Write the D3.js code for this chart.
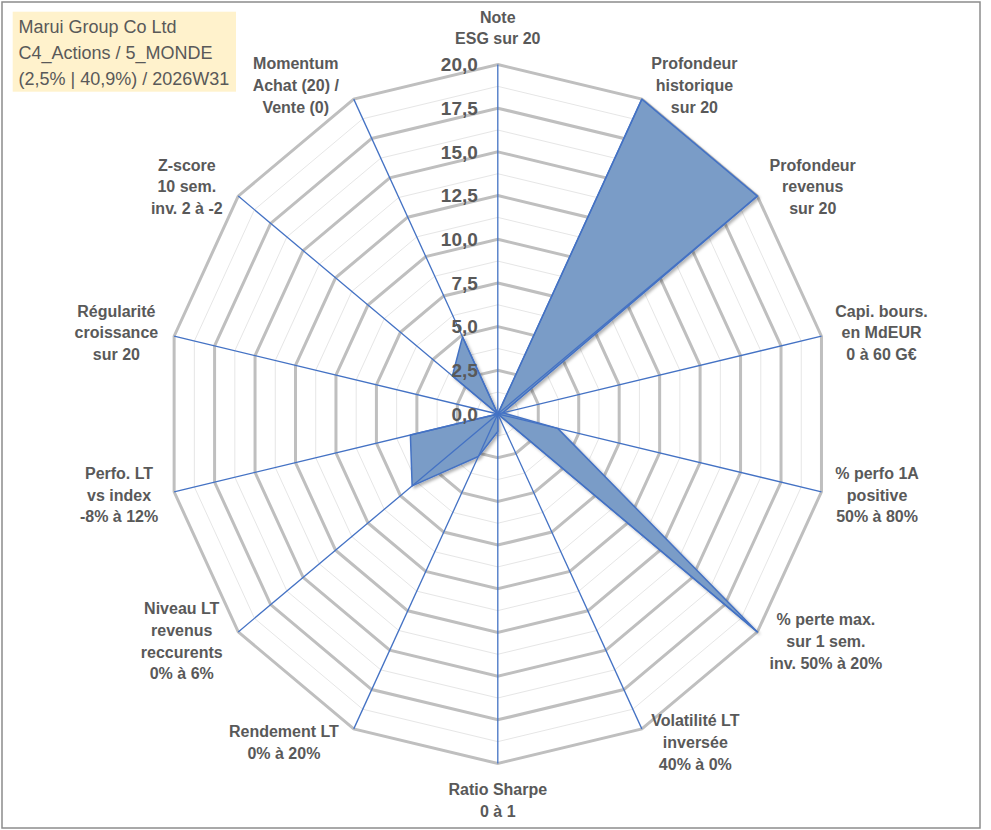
<!DOCTYPE html>
<html>
<head>
<meta charset="utf-8">
<script src="https://cdn.jsdelivr.net/npm/d3@7"></script>
<style>
  body { margin: 0; background: #fff; }
  svg { display: block; }
</style>
</head>
<body>
<div id="chart"></div>
<script>
// axis labels, clockwise from the top
const categories = [
  ["Note", "ESG sur 20"],
  ["Profondeur", "historique", "sur 20"],
  ["Profondeur", "revenus", "sur 20"],
  ["Capi. bours.", "en MdEUR", "0 à 60 G€"],
  ["% perfo 1A", "positive", "50% à 80%"],
  ["% perte max.", "sur 1 sem.", "inv. 50% à 20%"],
  ["Volatilité LT", "inversée", "40% à 0%"],
  ["Ratio Sharpe", "0 à 1"],
  ["Rendement LT", "0% à 20%"],
  ["Niveau LT", "revenus", "reccurents", "0% à 6%"],
  ["Perfo. LT", "vs index", "-8% à 12%"],
  ["Régularité", "croissance", "sur 20"],
  ["Z-score", "10 sem.", "inv. 2 à -2"],
  ["Momentum", "Achat (20) /", "Vente (0)"]
];
const values = [0, 20, 20, 0.3, 3.7, 20, 0, 1.0, 2.7, 6.6, 5.4, 0, 3.5, 4.9];
const majorTicks = [0, 2.5, 5, 7.5, 10, 12.5, 15, 17.5, 20];
const minorTicks = [1.25, 3.75, 6.25, 8.75, 11.25, 13.75, 16.25, 18.75];
const titleLines = ["Marui Group Co Ltd", "C4_Actions / 5_MONDE", "(2,5% | 40,9%) / 2026W31"];

const width = 991, height = 830;
const cx = 497.8, cy = 414;

const svg = d3.select("#chart").append("svg")
  .attr("width", width)
  .attr("height", height);

// frame
svg.append("rect")
  .attr("x", 2).attr("y", 2)
  .attr("width", 978).attr("height", 826)
  .attr("fill", "#fff")
  .attr("stroke", "#8c8c8c")
  .attr("stroke-width", 1.5);

const n = categories.length;
const angle = d3.scaleLinear().domain([0, n]).range([0, 2 * Math.PI]);
const rx = d3.scaleLinear().domain([0, 20]).range([0, 332]);
const ry = d3.scaleLinear().domain([0, 20]).range([0, 349.5]);

const px = (i, v) => cx + rx(v) * Math.sin(angle(i));
const py = (i, v) => cy - ry(v) * Math.cos(angle(i));

const ring = v => d3.range(n).map(i => [px(i, v), py(i, v)]);
const closed = d3.line().curve(d3.curveLinearClosed);

// minor gridlines
svg.append("g")
  .selectAll("path")
  .data(minorTicks)
  .enter()
  .append("path")
  .attr("d", d => closed(ring(d)))
  .attr("fill", "none")
  .attr("stroke", "#e6e6e6")
  .attr("stroke-width", 1);

// major gridlines
svg.append("g")
  .selectAll("path")
  .data(majorTicks.filter(d => d > 0))
  .enter()
  .append("path")
  .attr("d", d => closed(ring(d)))
  .attr("fill", "none")
  .attr("stroke", "#bfbfbf")
  .attr("stroke-width", 3)
  .attr("stroke-linejoin", "miter");

// data area
const defs = svg.append("defs");
const shadow = defs.append("filter").attr("id", "shadow")
  .attr("x", "-20%").attr("y", "-20%").attr("width", "140%").attr("height", "140%");
shadow.append("feDropShadow")
  .attr("dx", 2).attr("dy", 2).attr("stdDeviation", 1.5)
  .attr("flood-color", "#000").attr("flood-opacity", 0.3);

svg.append("path")
  .datum(values)
  .attr("d", d => closed(d.map((v, i) => [px(i, v), py(i, v)])))
  .attr("fill", "#7a9cc7")
  .attr("stroke", "#4472c4")
  .attr("stroke-width", 1.5)
  .attr("stroke-linejoin", "round")
  .attr("filter", "url(#shadow)");

// axis spokes
svg.append("g")
  .selectAll("line")
  .data(d3.range(n))
  .enter()
  .append("line")
  .attr("x1", cx).attr("y1", cy)
  .attr("x2", i => px(i, 20))
  .attr("y2", i => py(i, 20))
  .attr("stroke", "#4472c4")
  .attr("stroke-width", 1.3);

// tick labels
const fmt = d => d3.format(".1f")(d).replace(".", ",");
svg.append("g")
  .selectAll("text")
  .data(majorTicks)
  .enter()
  .append("text")
  .attr("x", cx - 20)
  .attr("y", d => cy - ry(d))
  .attr("dy", "0.36em")
  .attr("text-anchor", "end")
  .attr("font-family", "Liberation Sans, Arial, sans-serif")
  .attr("font-weight", "bold")
  .attr("font-size", "19px")
  .attr("fill", "#595959")
  .text(fmt);

// category labels
const lineH = 21.7;
const labels = svg.append("g")
  .attr("font-family", "Liberation Sans, Arial, sans-serif")
  .attr("font-weight", "bold")
  .attr("font-size", "16px")
  .attr("fill", "#595959");

categories.forEach((lines, i) => {
  const a = angle(i);
  const s = Math.sin(a), c = Math.cos(a);
  const t = labels.append("text").attr("text-anchor", "middle");
  const spans = lines.map(l => t.append("tspan").text(l));
  const w = d3.max(spans, sp => sp.node().getComputedTextLength());
  const h = lines.length * lineH;
  const vx = px(i, 20), vy = py(i, 20);
  const side = Math.abs(s) > 0.2;
  // nearest box edge sits a small gap off the outer vertex
  const gap = s > 0 ? 6 + 8 * s : 14 + 2 * Math.abs(s);
  const mx = side ? vx + Math.sign(s) * (gap + w / 2) : vx;
  const my = side ? vy - c * 15 : vy - c * (15 + h / 2);
  spans.forEach((sp, k) => {
    sp.attr("x", mx)
      .attr("y", my - h / 2 + lineH * (k + 0.5))
      .attr("dy", "0.35em");
  });
});

// title box
const tb = svg.append("g");
tb.append("rect")
  .attr("x", 12.7).attr("y", 11.7)
  .attr("width", 223.3).attr("height", 80)
  .attr("fill", "#fff2cc");
tb.selectAll("text")
  .data(titleLines)
  .enter()
  .append("text")
  .attr("x", 18.5)
  .attr("y", (d, i) => 33.3 + i * 26)
  .attr("font-family", "Liberation Sans, Arial, sans-serif")
  .attr("font-size", "18px")
  .attr("fill", "#595959")
  .text(d => d);
</script>
</body>
</html>
